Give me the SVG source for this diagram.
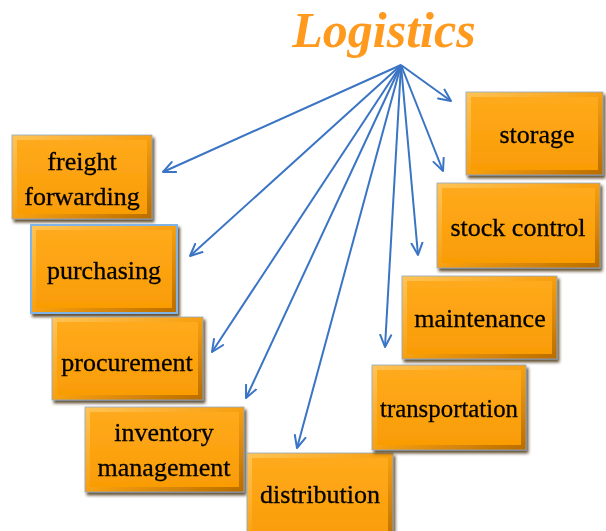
<svg xmlns="http://www.w3.org/2000/svg" width="606" height="531" viewBox="0 0 606 531">
  <defs>
    <linearGradient id="edge" x1="0" y1="0" x2="1" y2="1">
      <stop offset="0" stop-color="#FFC457"/>
      <stop offset="0.5" stop-color="#F7A012"/>
      <stop offset="1" stop-color="#B86C00"/>
    </linearGradient>
    <linearGradient id="face" x1="0" y1="0" x2="0" y2="1">
      <stop offset="0" stop-color="#FFAA1C"/>
      <stop offset="1" stop-color="#F99C05"/>
    </linearGradient>
    <filter id="shadow" x="-10%" y="-10%" width="125%" height="130%">
      <feDropShadow dx="2" dy="3" stdDeviation="1.6" flood-color="#3f2700" flood-opacity="0.8"/>
    </filter>
    <marker id="arr" viewBox="0 0 14 14" refX="13" refY="7" markerWidth="14" markerHeight="14" orient="auto" markerUnits="userSpaceOnUse">
      <path d="M1,1.5 L13,7 L1,12.5" fill="none" stroke="#3A74C4" stroke-width="2" stroke-linecap="round" stroke-linejoin="round"/>
    </marker>
    <style>
      .box { filter: url(#shadow); }
      .edge { fill: url(#edge); stroke: #8FA9C6; stroke-width: 0.8; }
      .face { fill: url(#face); }
      .lbl { font-family: "Liberation Serif", "Times New Roman", serif; font-size: 26px; fill: #000; stroke: #000; stroke-width: 0.3; text-anchor: middle; }
      .title { font-family: "Liberation Serif", "Times New Roman", serif; font-size: 50px; font-weight: bold; font-style: italic; fill: #FF9A1E; text-anchor: middle; }
      .conn line { stroke: #3A74C4; stroke-width: 2; marker-end: url(#arr); }
    </style>
  </defs>

  <rect width="606" height="531" fill="#FFFFFF"/>

  <g id="logistics">
    <text class="title" x="384" y="47">Logistics</text>
  </g>

  <g id="freight-forwarding" class="box">
    <rect class="edge" x="12" y="135" width="140" height="84"/>
    <rect class="face" x="17" y="140" width="130" height="74"/>
    <text class="lbl" x="82" y="170">freight</text>
    <text class="lbl" x="82" y="205">forwarding</text>
  </g>

  <g id="purchasing" class="box">
    <rect class="edge" x="31" y="225" width="146" height="88" style="stroke:#7FB4E8;stroke-width:2"/>
    <rect class="face" x="36" y="230" width="136" height="78"/>
    <text class="lbl" x="104" y="279">purchasing</text>
  </g>

  <g id="procurement" class="box">
    <rect class="edge" x="52" y="317" width="151" height="83"/>
    <rect class="face" x="57" y="322" width="141" height="73"/>
    <text class="lbl" x="127" y="371">procurement</text>
  </g>

  <g id="inventory-management" class="box">
    <rect class="edge" x="85" y="407" width="159" height="85"/>
    <rect class="face" x="90" y="412" width="149" height="75"/>
    <text class="lbl" x="164" y="441">inventory</text>
    <text class="lbl" x="164" y="476">management</text>
  </g>

  <g id="distribution" class="box">
    <rect class="edge" x="247" y="453" width="146" height="92"/>
    <rect class="face" x="252" y="458" width="136" height="82"/>
    <text class="lbl" x="320" y="503">distribution</text>
  </g>

  <g id="transportation" class="box">
    <rect class="edge" x="372" y="365" width="154" height="85"/>
    <rect class="face" x="377" y="370" width="144" height="75"/>
    <text class="lbl" x="449" y="417" textLength="138" lengthAdjust="spacingAndGlyphs">transportation</text>
  </g>

  <g id="maintenance" class="box">
    <rect class="edge" x="402" y="276" width="155" height="83"/>
    <rect class="face" x="407" y="281" width="145" height="73"/>
    <text class="lbl" x="480" y="327">maintenance</text>
  </g>

  <g id="stock-control" class="box">
    <rect class="edge" x="437" y="183" width="163" height="85"/>
    <rect class="face" x="442" y="188" width="153" height="75"/>
    <text class="lbl" x="518" y="236">stock control</text>
  </g>

  <g id="storage" class="box">
    <rect class="edge" x="466" y="92" width="137" height="83"/>
    <rect class="face" x="471" y="97" width="127" height="73"/>
    <text class="lbl" x="537" y="143">storage</text>
  </g>

  <g id="connectors" class="conn">
    <line x1="401" y1="65" x2="163" y2="172"/>
    <line x1="401" y1="65" x2="190" y2="256"/>
    <line x1="401" y1="65" x2="212" y2="352"/>
    <line x1="401" y1="65" x2="246" y2="398"/>
    <line x1="401" y1="65" x2="297" y2="448"/>
    <line x1="401" y1="65" x2="385" y2="347"/>
    <line x1="401" y1="65" x2="418" y2="255"/>
    <line x1="401" y1="65" x2="443" y2="171"/>
    <line x1="401" y1="65" x2="451" y2="101"/>
  </g>
</svg>
